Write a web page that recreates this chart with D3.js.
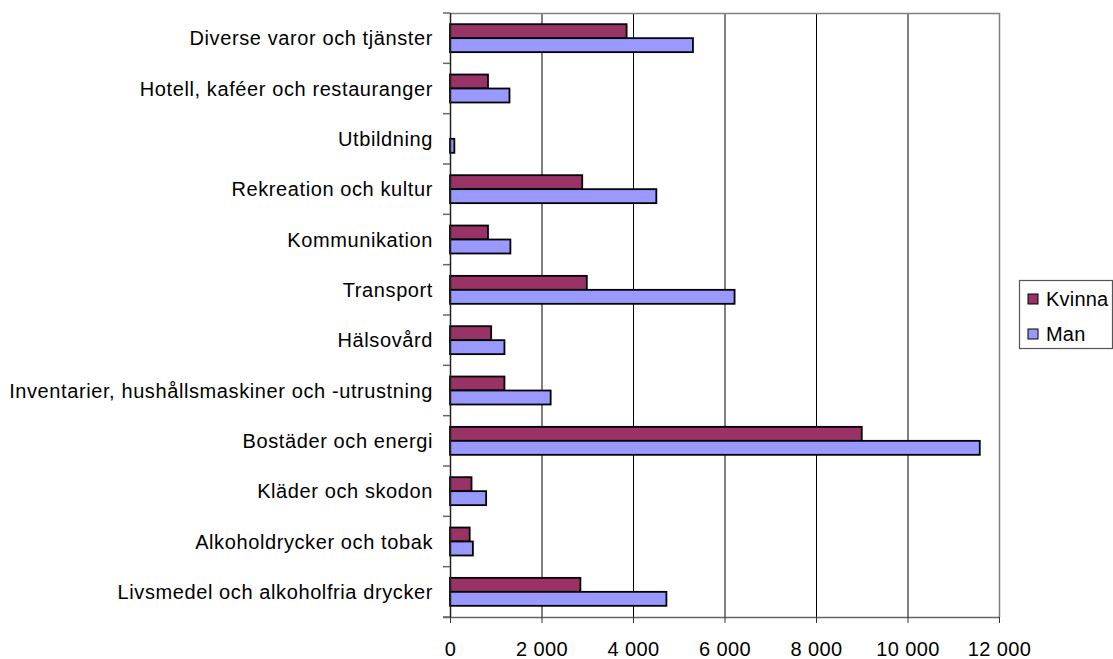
<!DOCTYPE html>
<html>
<head>
<meta charset="utf-8">
<script src="https://cdn.jsdelivr.net/npm/d3@7"></script>
<style>
  body { margin: 0; background: #fff; }
  svg { display: block; font-family: "Liberation Sans", Arial, sans-serif; }
</style>
</head>
<body>
<svg id="chart" width="1113" height="659"></svg>
<script>
// categories, top to bottom as in the chart
var categories = [
    "Diverse varor och tjänster",
    "Hotell, kaféer och restauranger",
    "Utbildning",
    "Rekreation och kultur",
    "Kommunikation",
    "Transport",
    "Hälsovård",
    "Inventarier, hushållsmaskiner och -utrustning",
    "Bostäder och energi",
    "Kläder och skodon",
    "Alkoholdrycker och tobak",
    "Livsmedel och alkoholfria drycker"
];
var seriesNames = ["Kvinna", "Man"];
var kvinna = [3860, 830, 0, 2890, 830, 2990, 900, 1190, 9000, 470, 430, 2850];
var man = [5310, 1300, 95, 4510, 1320, 6220, 1190, 2200, 11580, 790, 500, 4730];
var xTicks = [0, 2000, 4000, 6000, 8000, 10000, 12000];

var colors = { Kvinna: "#993366", Man: "#9999ff" };

var svg = d3.select("#chart");
var plot = { left: 450, right: 999, top: 13, bottom: 617 };

var x = d3.scaleLinear().domain([0, 12000]).range([plot.left, plot.right]);
var y = d3.scaleBand().domain(categories).range([plot.top, plot.bottom]);
var ySub = d3.scaleBand().domain(seriesNames).range([0, y.bandwidth()]).paddingOuter(0.8);

var rows = categories.map(function (c, i) {
    return { cat: c, Kvinna: kvinna[i], Man: man[i] };
});

//gridlines
svg.append("g")
    .selectAll("line")
    .data(xTicks.slice(1, -1))
    .join("line")
    .attr("x1", function (d) { return x(d) + 0.5; })
    .attr("x2", function (d) { return x(d) + 0.5; })
    .attr("y1", plot.top)
    .attr("y2", plot.bottom)
    .attr("stroke", "#000")
    .attr("stroke-width", 1);

//plot border top and right
svg.append("path")
    .attr("d", "M" + plot.left + "," + (plot.top + 0.5) + "H" + (plot.right + 0.5) + "V" + plot.bottom)
    .attr("fill", "none")
    .attr("stroke", "#808080")
    .attr("stroke-width", 1.5);

//bars
var groups = svg.append("g")
    .selectAll("g")
    .data(rows)
    .join("g")
    .attr("transform", function (d) { return "translate(0," + y(d.cat) + ")"; });

groups.selectAll("rect")
    .data(function (d) {
        return seriesNames.map(function (s) { return { key: s, value: d[s] }; })
            .filter(function (b) { return b.value > 0; });
    })
    .join("rect")
    .attr("x", x(0))
    .attr("y", function (d) { return ySub(d.key); })
    .attr("width", function (d) { return x(d.value) - x(0); })
    .attr("height", ySub.bandwidth())
    .attr("fill", function (d) { return colors[d.key]; })
    .attr("stroke", "#000")
    .attr("stroke-width", 1.8);

//x axis
var xAxis = svg.append("g")
    .attr("transform", "translate(0," + plot.bottom + ")")
    .call(d3.axisBottom(x)
        .tickValues(xTicks)
        .tickSizeInner(6)
        .tickSizeOuter(0)
        .tickPadding(19)
        .tickFormat(function (d) { return d3.format(",")(d).replace(/,/g, " "); }));
xAxis.select(".domain").attr("stroke", "#666").attr("stroke-width", 1.5)
    .attr("d", "M" + (plot.left - 7) + ",0.5H" + (plot.right + 0.5));
xAxis.selectAll(".tick line").attr("stroke", "#333");
xAxis.selectAll(".tick text")
    .attr("font-size", "20px")
    .attr("letter-spacing", "0.4px")
    .attr("font-family", "Liberation Sans, Arial, sans-serif")
    .attr("fill", "#000");

//y axis
var yTickPos = categories.map(function (c) { return y(c); }).concat([plot.bottom]);
var yAxis = svg.append("g");
yAxis.append("line")
    .attr("x1", plot.left + 0.5).attr("x2", plot.left + 0.5)
    .attr("y1", plot.top).attr("y2", plot.bottom)
    .attr("stroke", "#222").attr("stroke-width", 1.5);
yAxis.selectAll("line.tk")
    .data(yTickPos)
    .join("line")
    .attr("class", "tk")
    .attr("x1", plot.left - 7).attr("x2", plot.left)
    .attr("y1", function (d) { return d; })
    .attr("y2", function (d) { return d; })
    .attr("stroke", "#666").attr("stroke-width", 1.5);
yAxis.selectAll("text")
    .data(categories)
    .join("text")
    .attr("x", plot.left - 17)
    .attr("y", function (d) { return y(d) + y.bandwidth() / 2; })
    .attr("dy", "0.35em")
    .attr("text-anchor", "end")
    .attr("font-size", "20px")
    .attr("letter-spacing", "0.6px")
    .attr("fill", "#000")
    .text(function (d) { return d; });

//legend
var legend = svg.append("g").attr("transform", "translate(1019,280)");
legend.append("rect")
    .attr("x", 0.5).attr("y", 0.5)
    .attr("width", 93).attr("height", 68)
    .attr("fill", "#fff")
    .attr("stroke", "#555")
    .attr("stroke-width", 1.2);
var items = legend.selectAll("g.item")
    .data(seriesNames)
    .join("g")
    .attr("class", "item")
    .attr("transform", function (d, i) { return "translate(0," + (i * 35) + ")"; });
items.append("rect")
    .attr("x", 9).attr("y", 14)
    .attr("width", 10).attr("height", 10)
    .attr("fill", function (d) { return colors[d]; })
    .attr("stroke", "#000")
    .attr("stroke-width", 1);
items.append("text")
    .attr("x", 27).attr("y", 19)
    .attr("dy", "0.35em")
    .attr("font-size", "20px")
    .attr("letter-spacing", "0.2px")
    .attr("fill", "#000")
    .text(function (d) { return d; });
</script>
</body>
</html>
